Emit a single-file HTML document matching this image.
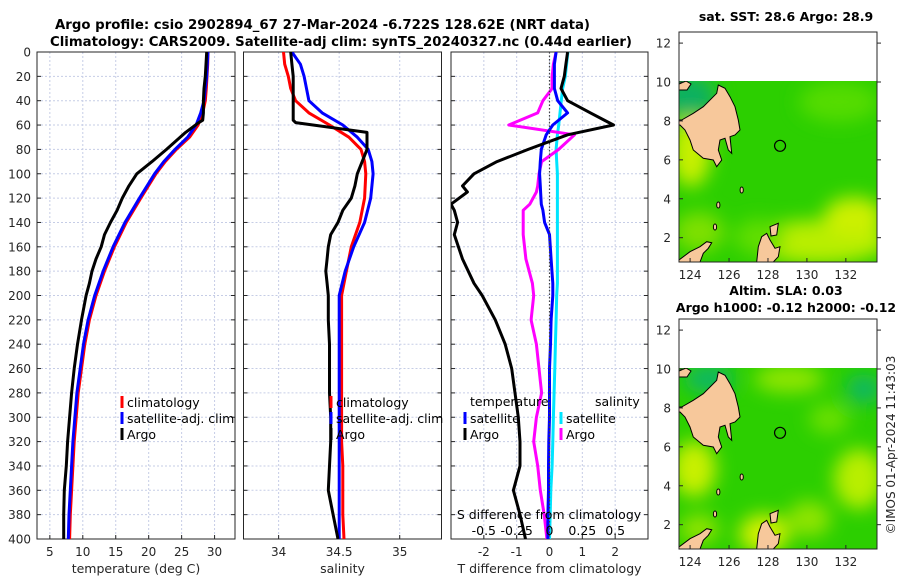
<!DOCTYPE html>
<html><head><meta charset="utf-8"><style>
html,body{margin:0;padding:0;background:#fff}
svg{display:block;font-family:"DejaVu Sans","Liberation Sans",sans-serif}
</style></head><body>
<svg id="chart" width="900" height="580" viewBox="0 0 900 580" xmlns="http://www.w3.org/2000/svg">
<defs>
<filter id="blur" x="-30%" y="-30%" width="160%" height="160%"><feGaussianBlur stdDeviation="9"/></filter>
<clipPath id="clipP1"><rect x="37" y="52" width="198" height="487"/></clipPath>
<clipPath id="clipP2"><rect x="243" y="52" width="198" height="487"/></clipPath>
<clipPath id="clipP3"><rect x="451" y="52" width="197" height="487"/></clipPath>
<clipPath id="clipMap"><rect x="0" y="49" width="198" height="181"/></clipPath>
</defs>
<text x="55" y="29" textLength="535" lengthAdjust="spacingAndGlyphs" font-size="13" font-weight="bold" fill="#000">Argo profile: csio 2902894_67 27-Mar-2024 -6.722S 128.62E (NRT data)</text>
<text x="50" y="46" textLength="582" lengthAdjust="spacingAndGlyphs" font-size="13" font-weight="bold" fill="#000">Climatology: CARS2009. Satellite-adj clim: synTS_20240327.nc (0.44d earlier)</text>
<g id="panels"></g>
<g id="maps"></g>
<text transform="translate(895,445) rotate(-90)" text-anchor="middle" font-size="12" fill="#262626">©IMOS 01-Apr-2024 11:43:03</text>
</svg>
<script>
// ---- data ----
const depthClim = [0,10,20,30,40,50,60,70,80,90,100,120,140,160,180,200,220,240,260,280,300,320,340,360,380,400];
const tempClim = [29.0,28.95,28.85,28.75,28.6,28.2,27.5,26.2,24.2,22.5,21.1,18.8,16.6,14.8,13.3,12.0,11.0,10.3,9.8,9.3,9.0,8.7,8.5,8.3,8.1,8.0];
const tempSat = [29.0,28.9,28.8,28.6,28.4,27.9,27.2,25.9,24.0,22.3,20.9,18.6,16.4,14.6,13.1,11.8,10.8,10.1,9.6,9.1,8.8,8.5,8.3,8.1,7.9,7.8];
const salClim = [34.04,34.05,34.08,34.1,34.14,34.25,34.42,34.58,34.68,34.71,34.72,34.71,34.67,34.6,34.56,34.52,34.52,34.52,34.52,34.52,34.52,34.52,34.53,34.53,34.53,34.54];
const salSat = [34.11,34.18,34.21,34.23,34.25,34.36,34.53,34.65,34.74,34.77,34.78,34.76,34.71,34.62,34.55,34.5,34.5,34.5,34.5,34.5,34.5,34.5,34.5,34.5,34.5,34.5];
const depthArgo = [0,10,20,30,40,50,56,58,66,80,90,100,110,120,130,140,150,160,170,180,190,200,220,240,260,280,300,320,340,360,380,400];
const tempArgo = [28.8,28.7,28.6,28.4,28.3,28.3,28.2,27.6,25.6,22.7,20.5,18.2,17.0,16.0,15.2,14.2,13.3,12.8,12.0,11.4,11.0,10.5,9.8,9.2,8.7,8.3,8.0,7.7,7.5,7.2,7.1,7.1];
const salArgo = [34.1,34.11,34.12,34.12,34.12,34.12,34.12,34.14,34.73,34.73,34.69,34.65,34.63,34.6,34.53,34.49,34.43,34.41,34.4,34.39,34.4,34.41,34.41,34.42,34.42,34.42,34.43,34.43,34.42,34.41,34.45,34.49];
const depthDiff = [0,10,20,30,40,50,60,68,80,90,100,110,115,125,130,140,150,170,190,200,220,240,260,280,300,320,340,360,380,400];
const tdiffArgo = [0.55,0.5,0.45,0.35,0.55,1.25,1.95,0.55,-0.65,-1.6,-2.3,-2.65,-2.5,-3.0,-2.9,-2.8,-2.9,-2.65,-2.3,-2.05,-1.65,-1.35,-1.15,-1.05,-0.95,-0.9,-0.9,-1.1,-0.9,-0.73];
const tdiffSat = [0.2,0.15,0.15,0.15,0.25,0.55,0.1,-0.1,-0.25,-0.28,-0.3,-0.28,-0.27,-0.25,-0.2,-0.15,0.0,0.05,0.1,0.1,0.05,0.03,0.0,0.0,0.0,-0.02,-0.03,-0.03,-0.05,-0.05];
const sdiffSat = [0.14,0.13,0.12,0.1,0.09,0.08,0.07,0.06,0.05,0.055,0.06,0.06,0.06,0.06,0.06,0.06,0.06,0.06,0.06,0.055,0.05,0.045,0.04,0.035,0.03,0.025,0.02,0.01,0.005,0.0];
const sdiffArgo = [0.05,0.03,0.02,0.02,-0.05,-0.09,-0.31,0.19,0.07,-0.06,-0.08,-0.09,-0.1,-0.15,-0.2,-0.2,-0.2,-0.18,-0.13,-0.12,-0.14,-0.1,-0.08,-0.06,-0.1,-0.12,-0.09,-0.07,-0.04,-0.02];
const depthTicks = [0,20,40,60,80,100,120,140,160,180,200,220,240,260,280,300,320,340,360,380,400];
const tempTicks = [5,10,15,20,25,30];
const salTicks = [34,34.5,35];
const tdiffTicks = [-2,-1,0,1,2];
const sdiffTicks = [-0.5,-0.25,0,0.25,0.5];
const lonTicks = [124,126,128,130,132];
const latTicks = [2,4,6,8,10,12];

const NS="http://www.w3.org/2000/svg";
function mk(tag, attrs, parent){const e=document.createElementNS(NS,tag);for(const k in attrs)e.setAttribute(k,attrs[k]);parent.appendChild(e);return e;}
const Y0=52, Y1=539;
const yScale = d => Y0 + (d/400)*(Y1-Y0);
const panels=document.getElementById('panels');

function panel(name,x0,x1,vmin,vmax,ticks,label,clip){
  const g=mk('g',{},panels);
  
  
  const xs = v => x0 + (v-vmin)/(vmax-vmin)*(x1-x0);
  ticks.forEach(t=>{const l=mk('line',{x1:xs(t),x2:xs(t),y1:Y0,y2:Y1,stroke:'#c6cde6','stroke-width':1,'stroke-dasharray':'2,2'},g);
    
    });
  depthTicks.forEach(d=>{if(d===0||d===400)return;const l=mk('line',{x1:x0,x2:x1,y1:yScale(d),y2:yScale(d),stroke:'#c6cde6','stroke-width':1,'stroke-dasharray':'2,2'},g);
    
    });
  const r=mk('rect',{x:x0,y:Y0,width:x1-x0,height:Y1-Y0,fill:'none',stroke:'#262626','stroke-width':1},g);
  
  
  depthTicks.forEach(d=>{mk('line',{x1:x0,x2:x0+4,y1:yScale(d),y2:yScale(d),stroke:'#262626'},g);mk('line',{x1:x1,x2:x1-4,y1:yScale(d),y2:yScale(d),stroke:'#262626'},g);});
  ticks.forEach(t=>{mk('line',{x1:xs(t),x2:xs(t),y1:Y1,y2:Y1-4,stroke:'#262626'},g);
    const tx=mk('text',{x:xs(t),y:556,'text-anchor':'middle','font-size':12,fill:'#262626'},g);tx.textContent=String(t);
    
    });
  const lab=mk('text',{x:(x0+x1)/2,y:573,'text-anchor':'middle','font-size':12.5,fill:'#262626'},g);lab.textContent=label;
  
  
  const lines=mk('g',{'clip-path':'url(#'+clip+')'},g);
  return {g,xs,lines};
}
function series(p,name,depths,vals,color,xs){
  const f=xs||p.xs;
  const d=vals.map((v,i)=>(i?'L':'M')+f(v).toFixed(1)+','+yScale(depths[i]).toFixed(1)).join(' ');
  const pa=mk('path',{d:d,fill:'none',stroke:color,'stroke-width':3,'stroke-linejoin':'round'},p.lines);
  
  
}
function legendItem(g,name,x,y,color,text){
  const b=mk('line',{x1:x,x2:x,y1:y-6,y2:y+6,stroke:color,'stroke-width':3},g);
  
  
  const t=mk('text',{x:x+5,y:y+5,'font-size':12.5,fill:'#000'},g);t.textContent=text;
  
  
}

depthTicks.forEach(d=>{const t=mk('text',{x:31,y:yScale(d)+4.5,'text-anchor':'end','font-size':12,fill:'#262626'},panels);t.textContent=String(d);
  
  });

// Panel 1 temperature
const p1=panel('temperature-panel',37,235,3.05,33.1,tempTicks,'temperature (deg C)','clipP1');
series(p1,'temp-climatology-line',depthClim,tempClim,'#ff0000');
series(p1,'temp-satellite-line',depthClim,tempSat,'#0000ff');
series(p1,'temp-argo-line',depthArgo,tempArgo,'#000000');
const lg1=mk('g',{},p1.g);


legendItem(lg1,'legend-climatology',122,402,'#ff0000','climatology');
legendItem(lg1,'legend-satellite',122,418,'#0000ff','satellite-adj. clim');
legendItem(lg1,'legend-argo',122,434,'#000000','Argo');

// Panel 2 salinity
const p2=panel('salinity-panel',243.5,441.5,33.71,35.345,salTicks,'salinity','clipP2');
series(p2,'sal-climatology-line',depthClim,salClim,'#ff0000');
series(p2,'sal-satellite-line',depthClim,salSat,'#0000ff');
series(p2,'sal-argo-line',depthArgo,salArgo,'#000000');
const lg2=mk('g',{},p2.g);


legendItem(lg2,'legend-climatology',331,402,'#ff0000','climatology');
legendItem(lg2,'legend-satellite',331,418,'#0000ff','satellite-adj. clim');
legendItem(lg2,'legend-argo',331,434,'#000000','Argo');

// Panel 3 differences
const p3=panel('difference-panel',451,648,-3,3,tdiffTicks,'T difference from climatology','clipP3');
const sx = s => p3.xs(s*4);
const zl=mk('line',{x1:p3.xs(0),x2:p3.xs(0),y1:Y0,y2:Y1,stroke:'#444','stroke-width':1.2,'stroke-dasharray':'1.5,2'},p3.g);


series(p3,'sdiff-satellite-line',depthDiff,sdiffSat,'#00e5ff',sx);
series(p3,'sdiff-argo-line',depthDiff,sdiffArgo,'#ff00ff',sx);
series(p3,'tdiff-satellite-line',depthDiff,tdiffSat,'#0000ff');
series(p3,'tdiff-argo-line',depthDiff,tdiffArgo,'#000000');
const st=mk('text',{x:549,y:519,'text-anchor':'middle','font-size':12.5,fill:'#000'},p3.g);st.textContent='S difference from climatology';


sdiffTicks.forEach(t=>{const tx=mk('text',{x:sx(t),y:535,'text-anchor':'middle','font-size':12.5,fill:'#000'},p3.g);tx.textContent=String(t);
  
  });
const lg3=mk('g',{},p3.g);


const h1=mk('text',{x:470,y:406,'font-size':12.5,fill:'#000'},lg3);h1.textContent='temperature';


const h2=mk('text',{x:595,y:406,'font-size':12.5,fill:'#000'},lg3);h2.textContent='salinity';


legendItem(lg3,'legend-t-satellite',465,418,'#0000ff','satellite');
legendItem(lg3,'legend-t-argo',465,434,'#000000','Argo');
legendItem(lg3,'legend-s-satellite',561,418,'#00e5ff','satellite');
legendItem(lg3,'legend-s-argo',561,434,'#ff00ff','Argo');

// ---- maps ----
const maps=document.getElementById('maps');
const W=198,H=230, LON0=123.43, LON1=133.6, LAT0=0.75, LAT1=12.57;
const mx = lon => (lon-LON0)/(LON1-LON0)*W;
const my = lat => H-(lat-LAT0)/(LAT1-LAT0)*H;
const mindanao="2.7,88 14.3,81.3 24.3,74.7 37.7,61.3 39.3,53 46,56.3 51,64.7 56,74.7 59.3,88 61,98 56,103 51,104.7 52.7,121.3 49.3,118 46,106.3 41,108 39.3,118 42.7,128 37.7,134.7 34.3,128 24.3,126.3 14.3,118 11,108 6,98 1,93 0,93 0,88";
const sulawesi="0,230 0,228 11,219.7 21,214.7 27.7,209.7 32.7,210.7 29.3,216.3 24.3,221.3 21,230";
const halmahera="77.7,230 79.3,214.7 82.7,204.7 87.7,201.3 91,208 96,216.3 101,214.7 99.3,224.7 94.3,230";
const smallIsl="91,194.7 99.3,191.3 97.7,203 92,204";
function drawMap(name,ox,oy,title1,title2,patches){
  const g=mk('g',{transform:'translate('+ox+','+oy+')'},maps);
  
  
  const c=mk('g',{'clip-path':'url(#clipMap)'},g);
  mk('rect',{x:0,y:my(10.1),width:W,height:H-my(10.1),fill:'#2ccf00'},c);
  const pg=mk('g',{filter:'url(#blur)'},c);
  patches.forEach(p=>mk('ellipse',{cx:p[0],cy:p[1],rx:p[2],ry:p[3],fill:p[4]},pg));
  const land=mk('g',{fill:'#f7c89b',stroke:'#000','stroke-width':1},c);
  
  
  [mindanao,sulawesi,halmahera,smallIsl].forEach(pts=>mk('polygon',{points:pts},land));
  mk('polygon',{points:'0,52 7,49 12,52 8,58 0,58'},land);
  [[62.7,158],[39.3,173],[36,195]].forEach(p=>mk('ellipse',{cx:p[0],cy:p[1],rx:1.6,ry:3,fill:'#f7c89b',stroke:'#000','stroke-width':1},land));
  const dot=mk('circle',{cx:mx(128.62),cy:my(6.722),r:5.5,fill:'none',stroke:'#000','stroke-width':1.2},g);
  
  
  mk('rect',{x:0,y:0,width:W,height:H,fill:'none',stroke:'#262626','stroke-width':1},g);
  lonTicks.forEach(t=>{mk('line',{x1:mx(t),x2:mx(t),y1:H,y2:H-4,stroke:'#262626'},g);
    const tx=mk('text',{x:mx(t),y:H+17,'text-anchor':'middle','font-size':12,fill:'#262626'},g);tx.textContent=String(t);
    
    });
  latTicks.forEach(t=>{mk('line',{x1:0,x2:4,y1:my(t),y2:my(t),stroke:'#262626'},g);mk('line',{x1:W,x2:W+4,y1:my(t),y2:my(t),stroke:'#262626'},g);
    const tx=mk('text',{x:-8,y:my(t)+4.5,'text-anchor':'end','font-size':12,fill:'#262626'},g);tx.textContent=String(t);
    
    });
  if(title1){const t=mk('text',{x:W/2+8,y:title2?-24:-11,'text-anchor':'middle','font-size':12.5,'font-weight':'bold',fill:'#000'},g);t.textContent=title1;
    
    }
  if(title2){const t=mk('text',{x:W/2+8,y:-7,'text-anchor':'middle','font-size':12.5,'font-weight':'bold',fill:'#000'},g);t.textContent=title2;
    
    }
}
drawMap('sst-map',679,32,'sat. SST: 28.6 Argo: 28.9',null,[
  [10,65,28,22,'#0fb060'],[12,120,20,35,'#c8f000'],[140,210,70,22,'#b8ee00'],[175,185,30,20,'#ccf000'],
  [20,200,25,20,'#7ee000'],[160,70,40,20,'#55dc00'],[80,205,25,18,'#60de00']]);
drawMap('sla-map',679,319,'Altim. SLA: 0.03','Argo h1000: -0.12 h2000: -0.12',[
  [30,60,25,15,'#10b860'],[185,70,18,15,'#10b860'],[15,150,22,28,'#c8f000'],[85,215,25,20,'#d0f000'],
  [180,160,25,30,'#b8ee00'],[110,60,35,14,'#90e600'],[20,210,20,15,'#90e400'],[150,100,20,15,'#6ae000'],[130,200,22,18,'#8ee400']]);
</script>
</body></html>
